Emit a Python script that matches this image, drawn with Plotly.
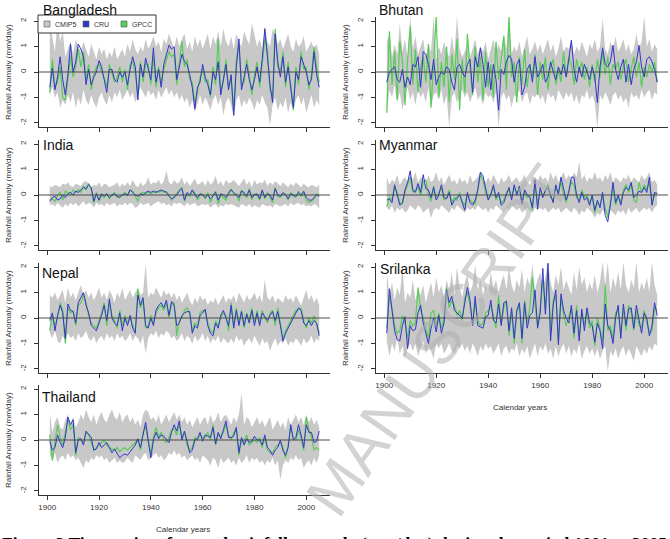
import plotly.graph_objects as go

YEARS = list(range(1901, 2006))

# ---------------- Bangladesh ----------------
BAN_CMIP5_HI = [1.9, 1.4, 0.8, 2.0, 1.2, 1.6, 0.6, 0.9, 1.2, 0.7,
                1.3, 1.0, 0.8, 1.2, 0.9, 0.6, 1.1, 0.8, 0.5, 1.0,
                0.7, 0.9, 0.5, 0.8, 0.6, 1.0, 0.5, 0.7, 0.9, 0.6,
                1.1, 0.8, 1.3, 0.9, 0.7, 1.0, 0.8, 1.3, 0.9, 1.1,
                1.4, 1.0, 1.2, 0.8, 1.3, 1.1, 1.5, 1.2, 0.9, 1.4,
                1.0, 1.3, 1.5, 0.9, 1.2, 0.8, 1.4, 1.0, 1.3, 0.9,
                1.2, 1.5, 0.9, 1.4, 1.1, 1.6, 1.0, 1.7, 1.2, 1.0,
                1.4, 0.9, 1.5, 1.2, 1.0, 1.6, 1.3, 1.1, 1.9, 1.4,
                1.0, 1.3, 0.9, 1.8, 1.2, 1.0, 1.7, 1.4, 1.1, 1.3,
                0.9, 1.2, 1.5, 1.0, 0.8, 1.3, 1.0, 1.1, 1.4, 0.8,
                1.0, 1.2, 0.9, 1.1, 0.7]
BAN_CMIP5_LO = [-0.9, -0.6, -1.0, -0.8, -1.4, -1.1, -1.3, -0.9, -1.2, -0.8,
                -1.4, -1.0, -1.3, -0.7, -1.1, -1.3, -0.9, -1.2, -1.4, -1.0,
                -0.8, -1.1, -1.3, -0.9, -1.2, -0.8, -1.0, -0.7, -1.1, -0.9,
                -0.7, -1.0, -0.8, -1.2, -0.9, -0.6, -0.8, -1.0, -0.7, -0.9,
                -0.8, -1.1, -0.7, -1.0, -0.8, -0.6, -0.9, -0.7, -1.0, -0.8,
                -1.1, -0.9, -1.2, -1.0, -1.4, -1.1, -1.6, -1.2, -0.9, -1.3,
                -1.0, -1.2, -1.5, -1.1, -0.9, -1.3, -1.0, -1.7, -1.2, -1.0,
                -1.3, -1.8, -1.1, -0.9, -1.4, -1.1, -1.3, -1.0, -1.2, -1.5,
                -1.1, -1.3, -0.9, -1.2, -1.4, -2.1, -1.3, -1.0, -1.5, -1.2,
                -1.4, -1.0, -1.6, -1.2, -1.5, -1.1, -0.9, -1.3, -1.0, -1.6,
                -1.2, -0.9, -1.4, -1.1, -1.3]
BAN_CRU = [-0.6, 0.15, -0.7, -0.2, 0.6, -0.3, -0.9, -0.1, 1.1, 0.0,
           0.4, 1.1, 0.9, 0.6, -0.5, 0.1, -0.5, -0.2, 0.0, 0.45,
           0.2, -0.3, -0.8, 0.1, 0.1, -0.3, -0.4, 0.0, -0.2, 0.0,
           -0.5, 0.1, 0.6, 0.2, -1.1, 0.3, -0.2, 0.55, 0.1, -0.3,
           0.95, -0.4, 0.1, -0.6, 0.3, 0.7, 1.05, 0.9, 1.0, -0.3,
           0.2, 0.7, 0.4, 0.3, -0.1, -0.6, -1.45, -0.6, -0.4, 0.3,
           -0.2, -0.5, -0.9, 0.0, -0.3, 0.4, -0.9, -0.2, 0.3, -0.7,
           -0.1, -1.7, 0.2, 1.3, -0.7, -0.2, 0.3, -0.3, -0.7, -0.3,
           0.2, -0.4, 0.5, 1.7, 0.6, -0.5, -1.2, 1.5, 0.4, -0.2,
           0.6, -0.4, 0.2, -0.7, -1.4, 0.0, -0.3, 0.6, 0.3, 0.0,
           -0.5, -0.3, 0.8, -0.1, -0.6]
BAN_GPCC = [-0.8, 0.5, -0.6, -0.4, 0.2, -1.0, -1.1, -0.3, 0.6, -0.2,
            0.2, 0.9, 0.2, 0.8, -0.3, 0.3, -0.7, -0.1, 0.2, 0.3,
            0.0, -0.2, -0.6, 0.3, -0.1, -0.4, -0.2, 0.2, -0.4, 0.1,
            -0.7, 0.3, 0.4, 0.0, -0.9, 0.4, -0.4, 0.3, 0.3, -0.5,
            0.6, -0.6, 0.2, -0.4, 0.1, 0.5, 0.8, 0.6, 0.7, -0.5,
            0.4, 1.2, 0.2, 0.5, -0.3, -0.4, -1.2, -0.8, -0.2, 0.1,
            -0.4, -0.3, -1.0, 0.2, -0.5, 1.3, -0.7, -0.4, 0.5, -0.6,
            -0.3, -1.5, 0.4, 1.1, -0.5, -0.4, 0.5, -0.1, -0.9, -0.1,
            0.4, -0.6, 0.3, 1.3, 0.8, -0.7, -1.0, 1.7, 0.2, 0.0,
            0.8, -0.6, 0.4, -0.5, -1.5, 0.2, -0.5, 0.8, 0.1, 0.2,
            -0.7, -0.1, 1.0, 0.2, -0.4]

# ---------------- Bhutan ----------------
BHU_CMIP5_HI = [1.2, 1.5, 0.6, 1.1, 0.7, 1.9, 0.8, 1.3, 0.5, 2.2,
                0.9, 1.4, 0.7, 1.0, 1.3, 0.6, 1.1, 0.8, 2.2, 0.5,
                1.0, 0.7, 1.2, 0.8, 0.6, 1.4, 0.7, 2.2, 0.9, 0.6,
                0.8, 1.1, 0.6, 0.9, 1.3, 0.7, 1.0, 0.8, 1.2, 0.5,
                0.9, 1.3, 0.7, 1.1, 0.8, 1.5, 0.9, 2.2, 0.7, 1.0,
                0.8, 1.2, 0.6, 1.0, 1.4, 0.7, 0.9, 1.2, 0.8, 1.1,
                0.7, 1.0, 1.3, 0.8, 1.1, 0.6, 0.9, 1.4, 0.8, 1.0,
                0.9, 1.3, 0.7, 1.0, 0.8, 1.2, 0.9, 0.6, 1.1, 0.9,
                1.3, 0.8, 1.0, 2.1, 0.9, 0.7, 1.2, 0.9, 1.4, 0.8,
                1.0, 1.3, 0.8, 1.1, 0.7, 0.9, 1.5, 0.9, 1.2, 2.2,
                1.0, 1.3, 0.8, 1.1, 0.9]
BHU_CMIP5_LO = [-1.7, -0.7, -1.0, -0.5, -1.2, -0.8, -1.5, -0.9, -0.6, -1.1,
                -0.8, -1.3, -0.7, -1.0, -0.8, -1.2, -0.6, -1.4, -0.9, -0.8,
                -1.1, -0.7, -1.3, -0.9, -2.2, -1.0, -0.8, -1.2, -0.9, -0.7,
                -1.0, -0.8, -1.2, -0.9, -0.6, -1.1, -0.9, -1.3, -0.8, -1.0,
                -0.9, -1.2, -0.8, -2.2, -1.0, -0.8, -1.1, -0.9, -1.4, -0.9,
                -1.0, -0.7, -1.2, -0.9, -0.8, -1.3, -0.9, -1.0, -0.8, -1.1,
                -0.9, -1.3, -0.8, -1.0, -0.9, -1.2, -0.7, -0.9, -1.1, -0.8,
                -1.0, -0.8, -1.2, -0.9, -1.3, -0.9, -1.0, -0.7, -1.1, -0.9,
                -1.2, -2.2, -0.9, -1.1, -0.8, -1.0, -1.3, -0.9, -0.8, -1.1,
                -0.9, -1.2, -1.0, -1.4, -0.8, -1.0, -0.9, -1.1, -0.7, -1.0,
                -0.8, -0.7, -1.1, -0.8, -0.9]
BHU_CRU = [-0.4, 0.0, 0.1, 0.2, -0.3, -0.4, 0.1, -0.6, -0.2, -0.5,
           0.3, 0.2, 0.6, -0.6, 0.8, 0.7, 0.3, -0.3, 0.5, -0.5,
           -0.2, 0.0, -0.1, 0.2, 0.1, -0.4, -0.7, 0.2, 0.3, 0.0,
           -0.2, 0.3, 0.5, -0.8, 0.6, 0.2, 0.95, 0.3, -0.6, 0.4,
           -0.7, 0.3, -0.3, -1.5, 0.1, -0.1, 0.4, 0.65, 0.5, -0.4,
           0.3, 0.5, -0.9, -0.6, 0.1, 0.3, -0.4, 0.6, -0.2, 0.0,
           0.3, -0.4, -0.2, 0.4, 0.0, -0.3, 0.2, -0.1, 0.3, -0.2,
           0.5, 1.25, 0.1, -0.4, 0.2, -0.2, 0.3, 0.0, -0.3, 0.2,
           -0.2, -1.2, 0.2, 0.95, 0.3, 0.2, 0.4, 1.05, 0.1, -0.3,
           0.2, 0.5, -0.4, 0.3, -0.5, 0.1, 0.4, 1.05, 0.2, -0.2,
           0.5, 0.6, 0.4, 0.1, -0.4]
BHU_GPCC = [-1.6, 1.6, -0.5, 0.8, -1.1, 1.2, 0.4, -1.3, 0.5, 1.8,
            -0.5, 0.9, -0.8, 0.2, 0.6, -0.4, 1.1, -1.4, 0.3, 2.2,
            -1.0, 0.4, -0.6, 1.0, -1.2, 0.7, -0.3, 1.3, -1.5, 0.5,
            -0.8, 1.5, 0.2, -0.9, 1.0, -0.4, 0.6, -1.1, 0.8, -0.6,
            0.3, -1.0, 1.2, -0.3, 0.5, 1.4, -0.7, 2.2, -0.2, 0.4,
            -1.2, 0.6, -0.5, 0.9, -0.6, 0.3, -0.2, 0.7, -0.9, 0.4,
            -0.3, 0.6, -0.7, 0.2, 0.5, -0.5, 0.1, -0.4, 0.8, -0.2,
            0.6, 0.3, -0.5, 0.5, 0.0, 0.4, -0.3, 0.2, -0.6, 0.3,
            -0.4, 0.5, -0.2, 0.8, -0.1, 0.6, -0.5, 0.3, 0.1, 0.4,
            -0.3, 0.2, 0.5, -0.4, 0.1, 0.6, -0.2, 0.4, -0.6, 0.2,
            -0.2, 0.3, 0.0, 0.4, -0.4]

# ---------------- India ----------------
IND_CMIP5_HI = [0.35, 0.3, 0.4, 0.35, 0.3, 0.45, 0.4, 0.5, 0.35, 0.3,
                0.45, 0.4, 0.35, 0.5, 0.55, 0.45, 0.3, 0.4, 0.35, 0.5,
                0.3, 0.45, 0.4, 0.3, 0.35, 0.4, 0.5, 0.3, 0.45, 0.35,
                0.5, 0.35, 0.6, 0.4, 0.3, 0.5, 0.35, 0.45, 0.7, 0.4,
                0.5, 0.45, 0.6, 0.4, 0.55, 0.95, 0.5, 0.4, 0.6, 0.45,
                0.5, 0.7, 0.4, 0.55, 0.35, 0.5, 0.65, 0.4, 0.45, 0.55,
                0.35, 0.6, 0.4, 0.5, 0.75, 0.4, 0.55, 0.35, 0.6, 0.45,
                0.5, 0.6, 0.45, 0.35, 0.5, 0.65, 0.4, 0.55, 0.3, 0.6,
                0.4, 0.5, 0.45, 0.6, 0.35, 0.5, 0.4, 0.55, 0.45, 0.35,
                0.5, 0.4, 0.3, 0.45, 0.35, 0.5, 0.4, 0.3, 0.45, 0.35,
                0.3, 0.4, 0.35, 0.3, 0.4]
IND_CMIP5_LO = [-0.4, -0.35, -0.45, -0.3, -0.4, -0.5, -0.35, -0.45, -0.3, -0.4,
                -0.3, -0.45, -0.35, -0.25, -0.4, -0.3, -0.35, -0.5, -0.3, -0.4,
                -0.35, -0.45, -0.3, -0.4, -0.35, -0.3, -0.45, -0.35, -0.4, -0.3,
                -0.4, -0.3, -0.35, -0.5, -0.45, -0.3, -0.4, -0.35, -0.3, -0.45,
                -0.35, -0.3, -0.25, -0.35, -0.3, -0.4, -0.35, -0.45, -0.3, -0.35,
                -0.3, -0.35, -0.45, -0.3, -0.4, -0.35, -0.3, -0.45, -0.4, -0.35,
                -0.4, -0.35, -0.5, -0.4, -0.35, -0.5, -0.4, -0.45, -0.35, -0.4,
                -0.35, -0.4, -0.45, -0.5, -0.35, -0.4, -0.45, -0.35, -0.5, -0.4,
                -0.45, -0.5, -0.35, -0.4, -0.45, -0.4, -0.5, -0.35, -0.4, -0.45,
                -0.4, -0.35, -0.45, -0.3, -0.4, -0.35, -0.3, -0.4, -0.35, -0.45,
                -0.4, -0.45, -0.35, -0.4, -0.55]
IND_CRU = [-0.25, -0.1, -0.05, -0.2, -0.15, 0.0, -0.1, 0.05, 0.1, 0.0,
           0.15, 0.1, 0.2, 0.3, 0.25, 0.4, 0.3, -0.25, 0.05, -0.2,
           0.05, -0.05, 0.05, -0.1, 0.0, 0.05, -0.05, -0.1, 0.0, 0.05,
           0.0, 0.2, 0.1, 0.0, -0.05, 0.05, 0.0, 0.1, 0.15, 0.1,
           0.15, 0.1, 0.15, 0.2, 0.15, 0.1, -0.05, -0.15, -0.1, 0.0,
           0.15, 0.25, -0.2, 0.1, 0.0, 0.2, 0.0, -0.1, 0.05, 0.0,
           -0.1, 0.0, -0.15, -0.05, 0.1, -0.2, 0.05, 0.0, -0.1, 0.05,
           0.2, 0.1, 0.0, -0.1, 0.15, 0.1, -0.05, 0.2, -0.1, 0.0,
           0.05, -0.15, 0.2, -0.1, 0.05, 0.0, -0.2, 0.25, 0.0, -0.05,
           0.1, 0.0, -0.15, 0.05, 0.0, -0.05, 0.1, 0.0, 0.15, -0.1,
           -0.2, -0.2, -0.1, 0.0, -0.05]
IND_GPCC = [-0.2, -0.15, -0.25, 0.0, 0.1, -0.2, 0.15, 0.1, 0.0, 0.2,
            0.1, 0.2, 0.1, 0.35, 0.2, 0.45, 0.2, -0.3, 0.1, -0.25,
            0.0, -0.1, 0.05, -0.15, 0.0, 0.1, -0.1, -0.05, 0.0, 0.1,
            -0.05, 0.2, 0.15, -0.05, -0.25, 0.05, 0.1, 0.05, 0.1, 0.05,
            0.1, 0.15, 0.1, 0.15, 0.1, 0.15, 0.0, -0.2, -0.05, 0.05,
            0.2, 0.3, -0.25, 0.05, -0.05, 0.15, 0.1, -0.2, 0.0, 0.05,
            -0.15, 0.1, -0.3, 0.0, 0.15, -0.35, 0.0, -0.1, -0.2, 0.1,
            0.25, 0.0, 0.05, -0.25, 0.2, 0.0, -0.1, 0.25, -0.2, 0.05,
            0.0, -0.2, 0.15, -0.15, 0.1, -0.1, -0.3, 0.3, -0.05, -0.1,
            0.05, 0.05, -0.2, 0.1, -0.05, -0.1, 0.15, -0.05, 0.1, -0.2,
            -0.3, -0.25, -0.15, 0.05, 0.0]

# ---------------- Myanmar ----------------
MYA_CMIP5_HI = [0.7, 0.4, 0.6, 0.5, 0.8, 0.4, 0.6, 0.7, 0.5, 0.8,
                0.6, 0.9, 0.5, 0.7, 0.6, 0.4, 0.8, 0.5, 0.6, 0.9,
                0.5, 0.7, 0.4, 0.6, 0.8, 0.5, 0.6, 0.4, 0.7, 0.5,
                0.6, 0.4, 0.8, 0.5, 0.6, 0.7, 0.9, 0.6, 0.5, 0.7,
                0.5, 0.8, 0.6, 0.4, 0.7, 0.5, 0.6, 0.8, 0.5, 0.6,
                0.7, 0.5, 0.6, 0.8, 0.5, 0.4, 0.6, 0.7, 0.5, 0.8,
                0.6, 0.7, 0.5, 0.9, 0.6, 0.8, 0.5, 0.7, 0.9, 0.6,
                0.8, 0.6, 0.9, 0.7, 1.3, 0.6, 0.8, 0.5, 0.7, 0.6,
                0.9, 0.6, 0.7, 0.5, 0.8, 0.6, 0.9, 0.5, 0.7, 0.6,
                0.5, 0.7, 0.6, 0.8, 0.5, 0.7, 0.6, 0.5, 0.8, 0.6,
                0.7, 0.9, 0.5, 0.6, 0.4]
MYA_CMIP5_LO = [-0.5, -0.6, -0.4, -0.7, -0.5, -0.6, -0.5, -0.7, -0.6, -0.4,
                -0.5, -0.6, -0.4, -0.5, -0.7, -0.6, -0.5, -0.9, -0.6, -0.5,
                -0.6, -0.4, -0.5, -0.6, -0.7, -0.5, -0.6, -0.4, -0.5, -0.6,
                -0.7, -0.5, -0.6, -0.5, -0.6, -0.4, -0.5, -0.6, -0.5, -0.7,
                -0.5, -0.6, -0.4, -0.5, -0.6, -0.7, -0.5, -0.6, -0.4, -0.5,
                -0.6, -0.5, -0.7, -0.6, -0.5, -0.6, -0.7, -0.5, -0.6, -0.5,
                -0.6, -0.5, -0.7, -0.6, -0.5, -0.6, -0.5, -0.7, -0.6, -0.5,
                -0.6, -0.7, -0.5, -0.6, -0.8, -0.6, -0.7, -0.5, -0.6, -0.7,
                -0.9, -0.7, -0.8, -0.6, -0.7, -0.8, -0.6, -0.7, -0.8, -0.6,
                -0.7, -0.6, -0.8, -0.5, -0.7, -0.6, -0.5, -0.7, -0.6, -0.5,
                -0.6, -0.5, -0.7, -0.5, -0.4]
MYA_CRU = [-0.2, -0.15, -0.3, 0.4, 0.0, -0.4, -0.3, 0.2, 0.5, 0.95,
           0.2, 0.1, 0.45, 0.1, 0.8, 0.25, 0.2, -0.1, 0.3, -0.2,
           0.0, 0.4, -0.1, -0.15, 0.1, -0.4, -0.2, -0.1, 0.0, -0.3,
           -0.6, 0.1, -0.3, -0.4, -0.2, 0.2, 0.9, 0.75, 0.2, -0.2,
           0.0, 0.4, -0.1, 0.1, -0.4, -0.3, 0.0, 0.3, -0.2, 0.4,
           0.0, 0.35, -0.35, 0.2, 0.0, -0.1, -0.5, 0.6, -0.55, 0.3,
           -0.1, 0.2, 0.3, 0.0, -0.3, 0.4, 0.0, 0.7, 0.2, -0.2,
           0.1, 0.7, 0.7, 0.0, -0.3, 0.1, -0.2, -0.1, -0.4, 0.0,
           -0.6, -0.2, -0.5, 0.1, -0.8, -1.05, -0.4, 0.5, -0.3, 0.0,
           -0.4, 0.1, 0.3, 0.2, 0.5, -0.1, 0.0, 0.15, 0.1, 0.3,
           0.1, 0.7, -0.4, 0.1, 0.05]
MYA_GPCC = [-0.45, -0.1, -0.2, 0.3, 0.1, -0.3, -0.35, 0.1, 0.4, 0.7,
            0.1, 0.2, 0.3, 0.0, 0.5, 0.6, 0.0, -0.25, 0.35, -0.1,
            0.1, 0.3, -0.2, -0.1, 0.2, -0.3, -0.1, -0.2, 0.1, -0.25,
            -0.4, 0.05, -0.2, -0.3, -0.35, 0.3, 0.8, 0.6, 0.1, -0.15,
            0.1, 0.3, -0.2, 0.0, -0.3, -0.2, 0.1, 0.2, -0.1, 0.3,
            0.1, 0.2, -0.3, 0.15, -0.1, 0.0, -0.6, 0.4, -0.4, 0.2,
            0.0, 0.1, 0.4, -0.1, -0.2, 0.3, 0.1, 0.5, 0.0, -0.3,
            0.2, 0.5, 0.4, -0.1, -0.2, 0.2, -0.1, 0.0, -0.3, -0.1,
            -0.7, -0.3, -0.4, 0.0, -0.5, -0.9, -0.3, 0.3, -0.4, -0.1,
            -0.3, 0.2, 0.4, 0.1, 0.4, -0.2, -0.3, 0.5, 0.1, 0.4,
            0.2, 0.5, -0.3, 0.0, 0.1]

# ---------------- Nepal ----------------
NEP_CMIP5_HI = [0.9, 0.8, 1.0, 0.7, 0.9, 1.1, 0.6, 1.2, 0.8, 1.0,
                0.7, 1.0, 1.3, 0.9, 1.1, 0.8, 1.0, 0.7, 0.9, 1.2,
                0.8, 1.0, 0.7, 1.1, 0.9, 0.6, 1.0, 0.8, 1.2, 0.7,
                0.9, 1.1, 0.8, 1.0, 1.2, 0.9, 1.0, 2.1, 0.8, 1.0,
                0.9, 1.2, 1.0, 0.8, 1.1, 0.9, 1.0, 0.8, 1.0, 0.7,
                0.9, 0.6, 0.8, 1.0, 0.7, 0.5, 0.8, 0.6, 0.9, 0.7,
                0.8, 0.5, 0.7, 0.6, 0.8, 0.5, 0.7, 0.9, 0.6, 0.8,
                0.7, 0.9, 0.6, 1.0, 0.8, 0.6, 0.9, 0.7, 0.8, 1.0,
                0.7, 0.9, 0.6, 1.5, 0.8, 0.7, 0.9, 0.6, 0.8, 0.7,
                0.6, 0.9, 0.7, 0.8, 0.6, 0.9, 0.7, 0.5, 0.8, 1.1,
                0.7, 0.9, 0.6, 0.8, 0.5]
NEP_CMIP5_LO = [-0.6, -0.8, -0.5, -0.9, -1.0, -0.7, -0.9, -0.6, -0.8, -0.7,
                -0.9, -0.6, -0.8, -0.7, -0.5, -0.8, -0.9, -0.7, -1.0, -0.8,
                -0.7, -0.9, -0.6, -0.8, -0.7, -0.9, -0.6, -0.8, -0.7, -0.9,
                -0.8, -0.6, -0.9, -0.7, -0.8, -1.0, -0.7, -1.4, -0.8, -0.6,
                -0.7, -0.5, -0.8, -0.6, -0.7, -0.5, -0.6, -0.8, -0.7, -0.9,
                -0.8, -0.6, -0.9, -0.7, -0.8, -1.0, -0.7, -0.9, -0.8, -0.6,
                -0.9, -0.7, -1.0, -0.8, -0.9, -0.7, -1.0, -0.8, -0.9, -1.0,
                -0.8, -1.0, -0.7, -0.9, -0.8, -1.1, -0.9, -0.8, -1.0, -0.7,
                -0.9, -1.1, -0.8, -1.0, -0.9, -1.3, -1.0, -0.8, -1.1, -0.9,
                -1.0, -0.8, -1.1, -0.9, -1.0, -0.8, -0.9, -1.1, -0.8, -1.0,
                -0.9, -0.7, -1.0, -0.8, -0.9]
NEP_CRU = [-0.1, 0.2, -0.5, 0.1, 0.5, 0.2, -0.8, 0.55, 0.3, 0.25,
           -0.2, 0.6, 0.8, 1.0, 0.5, 0.2, -0.3, -0.4, -0.5, -0.2,
           0.1, 0.5, -0.1, 0.75, 0.0, -0.2, -0.3, 0.2, -0.5, 0.0,
           -0.3, 0.1, -0.4, -0.6, 0.9, 0.5, 0.8, -0.3, -0.4, 0.0,
           -0.3, 0.3, 0.5, 0.6, 0.4, 0.7, 0.1, 0.65, 0.5, -0.3,
           -0.2, 0.1, 0.2, 0.25, 0.25, -0.6, -0.3, -0.4, 0.1, 0.2,
           0.35, -0.3, -0.6, -0.7, -0.2, -0.4, 0.1, 0.3, 0.0, -0.3,
           0.5, -0.4, 0.3, -0.3, 0.25, -0.3, 0.15, -0.2, 0.3, -0.3,
           0.2, -0.3, 0.2, 0.05, -0.1, 0.1, 0.25, -0.1, 0.25, -0.3,
           -0.9, -0.6, -0.4, -0.2, 0.0, 0.2, 0.4, 0.3, -0.2, -0.3,
           -0.1, -0.3, -0.1, -0.2, -0.7]
NEP_GPCC = [-0.5, 0.1, -0.3, 0.0, 0.6, 0.3, -1.0, 0.4, 0.2, 0.3,
            -0.3, 0.5, 0.6, 0.9, 0.6, 0.1, -0.2, -0.3, -0.4, -0.1,
            0.2, 0.6, -0.3, 0.6, 0.1, -0.1, -0.4, 0.3, -0.3, 0.1,
            -0.2, 0.0, -0.3, -0.5, 1.15, 0.4, 0.7, -0.4, -0.3, 0.1,
            -0.2, 0.2, 0.4, 0.5, 0.3, 0.6, 0.0, 0.5, 0.6, -0.7,
            -0.1, 0.0, 0.3, 0.4, 0.2, -0.5, -0.2, -0.3, 0.2, 0.3,
            0.25, -0.2, -0.5, -0.6, -0.1, -0.3, 0.0, 0.2, 0.1, -0.5,
            0.6, -0.3, 0.4, -0.2, 0.3, -0.4, 0.2, -0.1, 0.4, -0.2,
            0.3, -0.2, 0.3, 0.0, -0.2, 0.2, 0.3, -0.3, 0.4, -0.2,
            -0.8, -0.5, -0.3, -0.1, 0.1, 0.3, 0.3, 0.4, -0.1, -0.4,
            0.0, -0.2, 0.1, -0.3, -0.6]

# ---------------- Srilanka ----------------
SRI_CMIP5_HI = [1.8, 0.9, 1.4, 0.7, 1.2, 0.9, 2.0, 0.6, 1.0, 0.8,
                1.5, 0.7, 1.1, 0.9, 1.3, 0.6, 1.0, 1.4, 0.8, 1.6,
                1.0, 1.3, 0.8, 1.5, 1.1, 1.8, 0.9, 2.0, 1.2, 0.8,
                1.4, 1.7, 1.0, 1.3, 2.1, 1.1, 1.5, 0.9, 1.3, 1.0,
                1.8, 1.2, 1.5, 1.0, 1.4, 1.7, 1.1, 2.0, 1.3, 1.0,
                1.5, 1.2, 1.9, 1.0, 1.6, 1.3, 2.1, 1.1, 1.5, 1.8,
                1.2, 1.6, 2.2, 1.4, 1.0, 1.7, 1.3, 2.0, 1.1, 1.5,
                1.2, 0.9, 1.8, 1.1, 2.0, 1.3, 1.6, 1.0, 1.4, 1.1,
                1.7, 1.0, 1.4, 2.2, 1.3, 2.2, 1.0, 1.6, 1.2, 1.8,
                1.1, 2.2, 1.3, 1.0, 1.5, 1.2, 2.2, 1.0, 1.4, 1.1,
                1.6, 1.0, 2.2, 1.3, 0.9]
SRI_CMIP5_LO = [-0.9, -1.5, -1.0, -1.3, -0.8, -1.4, -1.1, -1.6, -1.2, -1.0,
                -1.3, -1.0, -1.5, -1.2, -0.9, -1.4, -1.1, -1.3, -1.6, -1.0,
                -1.2, -1.0, -1.4, -1.2, -1.0, -1.3, -1.4, -1.1, -1.2, -1.0,
                -1.3, -1.1, -1.4, -1.0, -1.2, -1.5, -1.1, -1.3, -1.0, -1.2,
                -1.1, -1.4, -1.2, -1.0, -1.5, -1.2, -1.1, -1.4, -1.2, -1.3,
                -1.0, -1.5, -1.2, -1.4, -1.1, -1.6, -1.3, -1.0, -1.5, -1.1,
                -1.3, -1.0, -1.4, -1.2, -1.6, -1.1, -1.5, -1.2, -1.0, -1.4,
                -1.1, -1.5, -1.2, -1.4, -1.0, -1.6, -1.3, -1.1, -1.4, -1.2,
                -1.5, -1.2, -1.6, -1.3, -1.1, -2.1, -1.3, -1.5, -1.2, -1.6,
                -1.3, -1.1, -1.5, -1.2, -1.4, -1.7, -1.1, -1.3, -1.5, -1.2,
                -1.4, -1.1, -1.3, -1.0, -1.1]
SRI_CRU = [-0.6, 1.15, 0.3, -0.5, -0.85, -0.9, -0.3, 0.05, -1.2, -0.3,
           -0.5, -0.45, 0.2, 0.5, -0.2, -0.6, -1.0, -0.4, 0.0, -0.55,
           0.1, -0.6, -0.2, 1.1, 0.6, 0.85, 0.3, 0.2, 0.1, 0.0,
           0.6, 1.2, 0.7, -0.3, 0.85, -0.3, -0.35, -0.4, 0.05, 0.1,
           0.7, -0.1, -0.2, 0.55, -0.3, 0.6, 0.65, -0.5, 0.4, -0.8,
           0.3, 0.6, -0.8, 0.6, -0.4, 0.1, 0.2, 1.1, -0.4, 0.2,
           1.95, 0.15, 2.15, -0.9, 0.5, 1.1, -1.05, 0.95, 0.3, 0.0,
           -0.2, 0.5, -0.6, 0.3, -0.9, 0.35, -0.5, 0.4, -0.2, -0.3,
           -0.95, -0.2, -0.5, -1.2, 0.55, -0.3, -0.5, -1.0, 0.0, 0.5,
           -0.8, 0.55, -0.3, 0.35, 0.4, -0.4, 0.5, -0.1, -0.6, 0.2,
           0.0, -0.7, -0.3, 0.6, 0.1]
SRI_GPCC = [-0.4, 0.9, 0.4, -0.3, -0.6, -0.5, 0.1, -0.2, -0.8, -0.1,
            -0.3, -0.2, 1.2, 0.3, 0.0, -0.4, -0.8, 0.2, 0.3, -0.3,
            0.2, -0.4, 0.0, 1.2, 0.4, 0.7, 0.5, 0.1, 0.3, -0.1,
            0.8, 1.0, 0.5, -0.2, 0.6, -0.1, -0.3, -0.2, 0.2, 0.3,
            0.5, 0.1, -0.4, 0.9, -0.2, 0.4, 0.7, -0.7, 0.3, -1.0,
            0.2, 0.5, -1.0, 0.7, -0.2, 0.4, 1.6, 0.5, -0.3, 0.4,
            1.5, 0.3, 1.8, -0.6, 0.7, 0.9, -0.9, 0.8, 0.1, -0.3,
            0.1, 0.4, -0.8, 0.5, -0.7, 0.2, -0.3, 0.3, -0.4, -0.1,
            -1.1, 0.0, -0.4, -0.9, 1.3, -0.5, -0.3, -0.8, 0.2, 0.3,
            -0.6, 0.4, -0.5, 0.5, 0.2, -0.5, 0.3, -0.3, -0.4, 0.3,
            -0.2, -0.6, -0.5, 0.4, 0.3]

# ---------------- Thailand ----------------
THA_CMIP5_HI = [1.05, 0.3, 0.7, 0.9, 0.5, 0.4, 0.8, 1.0, 0.6, 0.9,
                0.5, 0.7, 1.0, 0.8, 1.2, 0.9, 0.7, 1.0, 0.6, 0.9,
                1.1, 0.8, 0.7, 1.0, 1.2, 0.9, 0.8, 1.1, 0.7, 0.9,
                1.0, 0.7, 0.9, 0.6, 0.8, 0.5, 1.0, 1.2, 1.1, 0.8,
                0.9, 0.7, 1.0, 0.6, 0.8, 1.0, 0.7, 0.9, 1.1, 0.8,
                1.0, 0.7, 0.9, 0.6, 0.8, 0.5, 0.7, 0.9, 0.6, 0.8,
                0.9, 0.6, 1.0, 0.7, 0.8, 1.1, 0.7, 0.9, 1.0, 0.8,
                0.6, 0.9, 0.7, 1.0, 1.85, 0.6, 0.9, 0.8, 0.5, 0.7,
                0.9, 0.6, 0.8, 0.5, 0.7, 0.9, 0.4, 0.6, 0.8, 0.5,
                0.7, 0.4, 0.9, 0.6, 0.8, 1.0, 0.7, 0.9, 0.6, 1.0,
                0.7, 0.9, 0.6, 0.8, 0.5]
THA_CMIP5_LO = [-0.6, -0.8, -0.5, -0.9, -0.7, -0.6, -0.8, -0.5, -0.7, -0.6,
                -0.8, -0.7, -0.9, -1.1, -0.8, -0.9, -0.7, -0.8, -0.6, -0.7,
                -0.6, -0.8, -0.7, -0.9, -0.8, -0.7, -0.9, -0.8, -0.9, -0.85,
                -0.7, -0.8, -0.9, -0.6, -0.7, -0.8, -0.6, -0.5, -0.8, -0.7,
                -0.6, -0.5, -0.7, -0.6, -0.8, -0.7, -0.5, -0.6, -0.4, -0.6,
                -0.5, -0.7, -0.6, -0.8, -0.7, -0.6, -0.8, -0.7, -0.9, -0.6,
                -0.7, -0.8, -1.0, -0.7, -0.8, -1.1, -0.7, -0.9, -0.8, -0.7,
                -0.9, -0.8, -1.0, -0.7, -0.9, -0.8, -0.6, -0.9, -0.7, -0.8,
                -0.7, -0.9, -0.8, -1.0, -0.8, -0.9, -0.7, -1.0, -0.8, -1.55,
                -1.0, -0.8, -0.9, -0.7, -0.8, -0.6, -0.8, -0.7, -1.1, -0.9,
                -0.8, -1.0, -0.7, -0.9, -0.6]
THA_CRU = [-0.05, -0.4, -0.3, 0.2, -0.1, -0.3, 0.1, 0.9, 0.6, 0.8,
           -0.5, 0.0, 0.05, -0.2, 0.35, 0.2, 0.1, -0.4, -0.35, -0.1,
           -0.3, -0.2, -0.1, -0.3, -0.5, -0.35, -0.55, -0.7, -0.6, -0.55,
           -0.6, -0.45, -0.35, -0.2, 0.05, -0.3, 0.2, 0.7, 0.0, -0.7,
           0.0, 0.3, 0.05, 0.2, 0.15, 0.0, -0.1, 0.3, 0.6, 0.35,
           0.75, 0.0, 0.35, -0.05, -0.5, -0.4, 0.0, 0.05, 0.3, -0.05,
           0.2, 0.15, 0.1, 0.5, -0.15, 0.3, 0.05, 0.4, 0.75, 0.1,
           0.1, 0.15, 0.5, -0.5, 0.1, -0.2, 0.05, -0.1, -0.05, 0.15,
           0.0, 0.0, -0.2, 0.2, -0.3, -0.4, -0.6, -0.4, -0.3, 0.0,
           -0.4, -0.6, -0.3, 0.6, 0.0, 0.1, 0.6, 0.2, -0.3, 0.6,
           0.3, 0.3, -0.1, -0.05, 0.35]
THA_GPCC = [0.2, -0.8, -0.1, 0.6, 0.1, -0.2, 0.3, 0.8, 0.4, 0.6,
            -0.6, 0.1, 0.0, -0.1, 0.3, 0.2, -0.1, -0.4, -0.3, -0.2,
            -0.1, 0.0, -0.2, -0.3, -0.35, -0.4, -0.3, -0.45, -0.35, -0.3,
            -0.4, -0.3, -0.2, -0.1, 0.0, -0.4, 0.3, 0.55, -0.1, -0.5,
            0.1, 0.5, 0.1, 0.3, 0.0, -0.1, 0.1, 0.4, 0.45, 0.2,
            0.6, 0.1, 0.3, -0.2, -0.4, -0.3, 0.1, 0.0, 0.2, 0.1,
            0.1, 0.3, 0.0, 0.6, -0.2, 0.2, 0.15, 0.3, 0.6, 0.2,
            0.0, 0.3, 0.4, -0.6, 0.0, -0.1, 0.2, -0.2, -0.1, 0.0,
            -0.1, 0.1, -0.3, 0.1, -0.4, -0.5, -0.5, -0.3, -0.2, -0.1,
            -0.3, -0.7, -0.2, 0.5, 0.1, 0.0, 0.4, 0.1, -0.4, 0.9,
            0.4, 0.1, -0.4, -0.3, -0.4]

COUNTRIES = ["Bangladesh", "Bhutan", "India", "Myanmar", "Nepal", "Srilanka", "Thailand"]
SERIES = {
    "Bangladesh": (BAN_CMIP5_LO, BAN_CMIP5_HI, BAN_CRU, BAN_GPCC),
    "Bhutan": (BHU_CMIP5_LO, BHU_CMIP5_HI, BHU_CRU, BHU_GPCC),
    "India": (IND_CMIP5_LO, IND_CMIP5_HI, IND_CRU, IND_GPCC),
    "Myanmar": (MYA_CMIP5_LO, MYA_CMIP5_HI, MYA_CRU, MYA_GPCC),
    "Nepal": (NEP_CMIP5_LO, NEP_CMIP5_HI, NEP_CRU, NEP_GPCC),
    "Srilanka": (SRI_CMIP5_LO, SRI_CMIP5_HI, SRI_CRU, SRI_GPCC),
    "Thailand": (THA_CMIP5_LO, THA_CMIP5_HI, THA_CRU, THA_GPCC),
}
X_TICKS = [1900, 1920, 1940, 1960, 1980, 2000]
Y_TICKS = [-2, -1, 0, 1, 2]
LEGEND_LABELS = ["CMIP5", "CRU", "GPCC"]

for k, v in SERIES.items():
    for arr in v:
        assert len(arr) == len(YEARS), (k, len(arr))

# ---------------- styling / geometry ----------------
W, H = 670, 539
BAND = "#C8C8C8"
BLUE = "#3535C8"
GREEN = "#58CC58"
AX = "#333333"
FONT = "Arial"

COL_X = [(39, 330), (376, 668)]
ROW_BOTTOM = [127, 250, 373, 495]
PANEL_H = 110
# (col, row, title x px, title top px, show x labels)
PLACE = {
    "Bangladesh": (0, 0, 41, 0, False),
    "Bhutan": (1, 0, 377, 0, False),
    "India": (0, 1, 41, 135, False),
    "Myanmar": (1, 1, 377, 135, False),
    "Nepal": (0, 2, 40, 263, False),
    "Srilanka": (1, 2, 378, 259, True),
    "Thailand": (0, 3, 40, 387, True),
}

def px(x):
    return x / W

def py(y):
    return 1 - y / H

fig = go.Figure()
annotations = []
shapes = []
layout = {}

for i, name in enumerate(COUNTRIES, start=1):
    lo, hi, cru, gpcc = SERIES[name]
    col, row, tx, tt, showx = PLACE[name]
    xa = "x" if i == 1 else f"x{i}"
    ya = "y" if i == 1 else f"y{i}"
    x0, x1 = COL_X[col]
    bot = ROW_BOTTOM[row]
    top = bot - PANEL_H

    fig.add_trace(go.Scatter(x=YEARS, y=lo, xaxis=xa, yaxis=ya, mode="lines",
                             line=dict(width=0, color=BAND), hoverinfo="skip",
                             showlegend=False))
    fig.add_trace(go.Scatter(x=YEARS, y=hi, xaxis=xa, yaxis=ya, mode="lines",
                             line=dict(width=0, color=BAND), fill="tonexty",
                             fillcolor=BAND, name="CMIP5", showlegend=False))
    fig.add_trace(go.Scatter(x=YEARS, y=gpcc, xaxis=xa, yaxis=ya, mode="lines",
                             line=dict(width=1.2, color=GREEN), name="GPCC",
                             showlegend=False))
    fig.add_trace(go.Scatter(x=YEARS, y=cru, xaxis=xa, yaxis=ya, mode="lines",
                             line=dict(width=1, color=BLUE), name="CRU",
                             showlegend=False))

    kx = "xaxis" if i == 1 else f"xaxis{i}"
    ky = "yaxis" if i == 1 else f"yaxis{i}"
    layout[kx] = dict(domain=[px(x0), px(x1)], range=[1896.84, 2009.16],
                      anchor=ya, tickvals=X_TICKS, showticklabels=showx,
                      ticks="outside", ticklen=4, tickcolor=AX, tickwidth=1,
                      showline=True, linecolor=AX, linewidth=1,
                      showgrid=False, zeroline=False,
                      tickfont=dict(family=FONT, size=8, color=AX))
    layout[ky] = dict(domain=[py(bot), py(top)], range=[-2.16, 2.16],
                      anchor=xa, tickvals=Y_TICKS, ticktext=[str(v) for v in Y_TICKS],
                      tickangle=-90, ticks="outside", ticklen=4, tickcolor=AX,
                      tickwidth=1, showline=True, linecolor=AX, linewidth=1,
                      showgrid=False, zeroline=False, ticklabelstandoff=5,
                      tickfont=dict(family=FONT, size=8, color=AX))

    # zero reference line
    shapes.append(dict(type="line", xref=f"{xa} domain", yref=ya, x0=0, x1=1,
                       y0=0, y1=0, line=dict(color="#4a4a4a", width=1), layer="above"))

    # panel title
    annotations.append(dict(text=name, x=px(tx), y=py(tt), xref="paper", yref="paper",
                            xanchor="left", yanchor="top", showarrow=False,
                            font=dict(family=FONT, size=14, color="#111111")))
    # y axis title
    ytx = 8 if col == 0 else 345
    annotations.append(dict(text="Rainfall Anomaly (mm/day)", x=px(ytx),
                            y=py((top + bot) / 2), xref="paper", yref="paper",
                            xanchor="center", yanchor="middle", textangle=-90,
                            showarrow=False,
                            font=dict(family=FONT, size=8, color=AX)))
    if showx:
        annotations.append(dict(text="Calendar years", x=px((x0 + x1) / 2 - 2),
                                y=py(bot + 34), xref="paper", yref="paper",
                                xanchor="center", yanchor="middle", showarrow=False,
                                font=dict(family=FONT, size=8, color=AX)))

# legend (drawn in the Bangladesh panel)
shapes.append(dict(type="rect", xref="paper", yref="paper", x0=px(38), x1=px(156),
                   y0=py(33), y1=py(15), line=dict(color=AX, width=1),
                   fillcolor="white", layer="above"))
leg_cols = [BAND, BLUE, GREEN]
leg_x = [47, 86, 124]
for lab, c, lx in zip(LEGEND_LABELS, leg_cols, leg_x):
    shapes.append(dict(type="rect", xref="paper", yref="paper", x0=px(lx - 3), x1=px(lx + 3),
                       y0=py(27), y1=py(21), line=dict(color="#555555", width=0.6),
                       fillcolor=c, layer="above"))
    annotations.append(dict(text=lab, x=px(lx + 6), y=py(24), xref="paper", yref="paper",
                            xanchor="left", yanchor="middle", showarrow=False,
                            font=dict(family=FONT, size=7, color=AX)))

# watermark
annotations.append(dict(text="MANUSCRIPT", x=px(438), y=py(340), xref="paper", yref="paper",
                        xanchor="center", yanchor="middle", textangle=-55, showarrow=False,
                        font=dict(family=FONT, size=62, color="rgba(175,175,175,0.55)")))

# caption (cut off at the bottom of the page)
annotations.append(dict(text="<b>Figure 2 Time series of annual rainfall anomaly (mm/day) during the period 1901 to 2005</b>",
                        x=px(0), y=py(531), xref="paper", yref="paper",
                        xanchor="left", yanchor="top", showarrow=False,
                        font=dict(family="Liberation Serif, Times New Roman, serif", size=17.5, color="#000000")))

fig.update_layout(width=W, height=H, margin=dict(l=0, r=0, t=0, b=0),
                  paper_bgcolor="white", plot_bgcolor="white",
                  showlegend=False, annotations=annotations, shapes=shapes,
                  **layout)

fig.write_html("out.html")
